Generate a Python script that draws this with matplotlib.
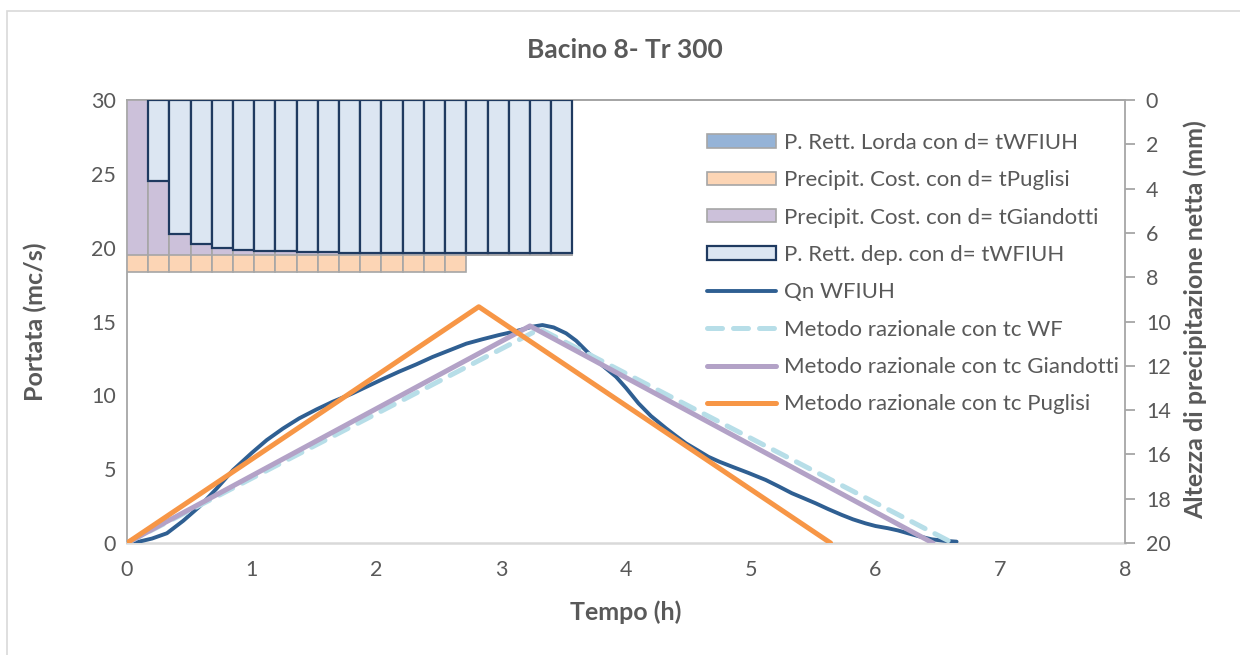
import matplotlib
matplotlib.use("Agg")
import matplotlib.pyplot as plt
from matplotlib.patches import Patch, Rectangle
from matplotlib.lines import Line2D

plt.rcParams['font.family'] = ['Lato', 'DejaVu Sans']

# --- data ---------------------------------------------------------------
dt = 0.17  # rainfall step (h)

# rainfall blocks (mm), one value per step starting at t = 0
p_lorda = [7.0] * 21
p_puglisi = [7.75] * 16
p_giandotti = [7.0] * 21
p_dep = [0.0, 3.64, 6.05, 6.50, 6.68, 6.76, 6.80, 6.83, 6.86, 6.88, 6.89,
         6.90, 6.90, 6.90, 6.90, 6.90, 6.90, 6.90, 6.90, 6.90, 6.90]

# WFIUH hydrograph
t_qn = [0, 0.1, 0.2, 0.32, 0.45, 0.58, 0.72, 0.85, 1.0, 1.12, 1.25, 1.38, 1.52,
        1.65, 1.8, 1.92, 2.05, 2.18, 2.32, 2.45, 2.6, 2.72, 2.85, 2.98, 3.12,
        3.25, 3.33, 3.42, 3.52, 3.6, 3.7, 3.8, 3.92, 4.0, 4.1, 4.2, 4.32, 4.4,
        4.48, 4.57, 4.66, 4.75, 4.85, 4.98, 5.12, 5.22, 5.33, 5.42, 5.52, 5.62,
        5.73, 5.82, 5.92, 6.0, 6.1, 6.18, 6.26, 6.35, 6.45, 6.55, 6.65]
q_qn = [0, 0.1, 0.3, 0.66, 1.5, 2.46, 3.7, 4.94, 6.1, 6.97, 7.75, 8.44, 9.05,
        9.57, 10.1, 10.58, 11.1, 11.6, 12.1, 12.6, 13.1, 13.5, 13.8, 14.08,
        14.35, 14.65, 14.76, 14.6, 14.2, 13.7, 12.86, 12.1, 11.26, 10.5, 9.46,
        8.6, 7.77, 7.25, 6.75, 6.3, 5.84, 5.5, 5.17, 4.75, 4.27, 3.85, 3.37,
        3.05, 2.69, 2.3, 1.9, 1.6, 1.33, 1.15, 1.0, 0.85, 0.66, 0.45, 0.25,
        0.15, 0.09]

# rational method triangular hydrographs
t_wf = [0, 3.31, 6.62]
q_wf = [0, 14.5, 0]
t_gia = [0, 3.23, 6.46]
q_gia = [0, 14.7, 0]
t_pug = [0, 2.82, 5.64]
q_pug = [0, 16.0, 0]

legend_labels = ["P. Rett. Lorda con d= tWFIUH",
                 "Precipit. Cost. con d= tPuglisi",
                 "Precipit. Cost. con d= tGiandotti",
                 "P. Rett. dep. con d= tWFIUH",
                 "Qn WFIUH",
                 "Metodo razionale con tc WF",
                 "Metodo razionale con tc Giandotti",
                 "Metodo razionale con tc Puglisi"]

# --- styles ---------------------------------------------------------------
TXT = '#595959'
C_LORDA, C_PUG, C_GIA, C_DEP = '#95B3D7', '#FCD5B5', '#CCC1DA', '#DCE6F2'
C_DEP_EDGE = '#1F3A60'
C_BAR_EDGE = '#A6A6A6'
C_QN, C_WF, C_LGIA, C_LPUG = '#2F5F92', '#B7DEE8', '#B3A2C7', '#F79646'

fig = plt.figure(figsize=(12.4, 6.55), dpi=100)
fig.patches.append(Rectangle((7 / 1240, -0.1), 1.2, 1.1 - 11 / 655,
                             transform=fig.transFigure, fill=False,
                             edgecolor='#D9D9D9', linewidth=1.2))

ax = fig.add_axes([127 / 1240, 1 - 543 / 655, 998 / 1240, 443 / 655])
ax2 = ax.twinx()

# hydrographs on the left axis
ax.plot(t_qn, q_qn, color=C_QN, lw=2.8, solid_capstyle='round', zorder=3)
ax.plot(t_wf, q_wf, color=C_WF, lw=3.6, dashes=(3.0, 2.2),
        dash_capstyle='round', zorder=4)
ax.plot(t_gia, q_gia, color=C_LGIA, lw=3.6, solid_capstyle='round', zorder=5)
ax.plot(t_pug, q_pug, color=C_LPUG, lw=3.6, solid_capstyle='round', zorder=6)

ax.set_xlim(0, 8)
ax.set_ylim(0, 30)
ax.set_xticks(range(0, 9))
ax.set_yticks(range(0, 31, 5))

# rainfall blocks on the reversed right axis
def blocks(values, **kw):
    xs = [i * dt for i, v in enumerate(values) if v > 0]
    hs = [v for v in values if v > 0]
    ax2.bar(xs, hs, width=dt, align='edge', **kw)

blocks(p_lorda, color=C_LORDA, edgecolor=C_BAR_EDGE, linewidth=1.2, zorder=1)
blocks(p_puglisi, color=C_PUG, edgecolor=C_BAR_EDGE, linewidth=1.2, zorder=2)
blocks(p_giandotti, color=C_GIA, edgecolor=C_BAR_EDGE, linewidth=1.2, zorder=3)
blocks(p_dep, color=C_DEP, edgecolor=C_DEP_EDGE, linewidth=1.6, zorder=4)
ax2.set_ylim(20, 0)
ax2.set_yticks(range(0, 21, 2))

# axes appearance
for a in (ax, ax2):
    for s in a.spines.values():
        s.set_color('#A6A6A6')
        s.set_linewidth(1.3)
ax.spines['bottom'].set_color('#D9D9D9')
ax.spines['bottom'].set_linewidth(1.8)
ax2.spines['bottom'].set_visible(False)
ax.spines['right'].set_visible(False)
ax2.spines['left'].set_visible(False)

ax.tick_params(axis='both', length=0, labelsize=15.5, labelcolor=TXT, pad=8)
ax.tick_params(axis='x', pad=12)
ax2.tick_params(axis='y', length=7, width=1.3, color='#A6A6A6',
                labelsize=15.5, labelcolor=TXT, pad=8)

fig.text(0.504, 1 - 50 / 655, "Bacino 8- Tr 300", ha='center', va='center',
         fontsize=19, fontweight='bold', color=TXT)
fig.text(626 / 1240, 1 - 612 / 655, "Tempo (h)", ha='center', va='center',
         fontsize=18, fontweight='bold', color=TXT)
fig.text(35 / 1240, 1 - 322 / 655, "Portata (mc/s)", ha='center', va='center',
         rotation=90, fontsize=18, fontweight='bold', color=TXT)
fig.text(1195 / 1240, 1 - 320 / 655, "Altezza di precipitazione netta (mm)",
         ha='center', va='center', rotation=90, fontsize=18,
         fontweight='bold', color=TXT)

# legend
handles = [
    Patch(facecolor=C_LORDA, edgecolor=C_BAR_EDGE, linewidth=1.2),
    Patch(facecolor=C_PUG, edgecolor=C_BAR_EDGE, linewidth=1.2),
    Patch(facecolor=C_GIA, edgecolor=C_BAR_EDGE, linewidth=1.2),
    Patch(facecolor=C_DEP, edgecolor=C_DEP_EDGE, linewidth=1.6),
    Line2D([], [], color=C_QN, lw=2.8, solid_capstyle='round'),
    Line2D([], [], color=C_WF, lw=3.6, dashes=(3.0, 2.2), dash_capstyle='round'),
    Line2D([], [], color=C_LGIA, lw=3.6, solid_capstyle='round'),
    Line2D([], [], color=C_LPUG, lw=3.6, solid_capstyle='round'),
]
leg = ax2.legend(handles, legend_labels, loc='upper left',
                 bbox_to_anchor=(707 / 1240, 1 - 133 / 655),
                 bbox_transform=fig.transFigure, frameon=False, fontsize=16,
                 handlelength=3.1, handleheight=0.55, handletextpad=0.36,
                 labelspacing=0.78, borderpad=0, borderaxespad=0)
for txt in leg.get_texts():
    txt.set_color(TXT)

fig.savefig("out.png", dpi=100)
